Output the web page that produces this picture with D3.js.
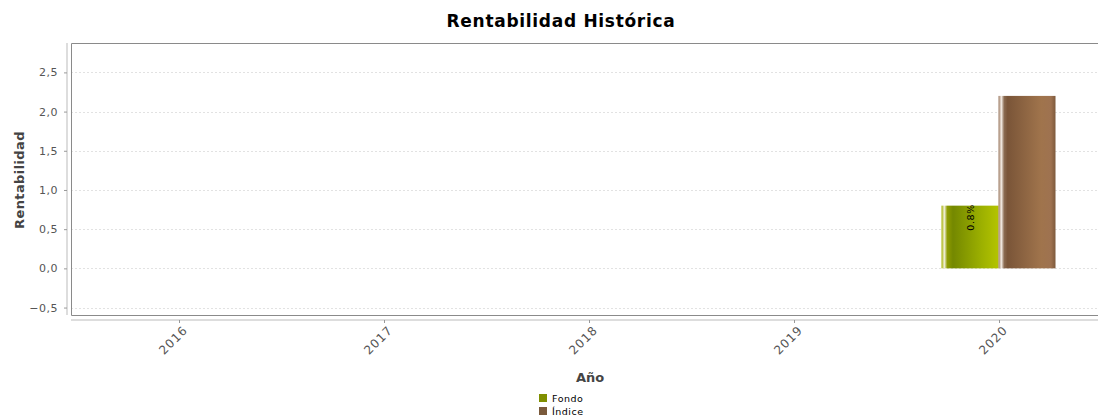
<!DOCTYPE html>
<head>
  <meta charset="utf-8">
  <script src="https://d3js.org/d3.v7.min.js"></script>
  <style>
    body { margin:0; background:#fff; }
    text { font-family: "DejaVu Sans", sans-serif; }
  </style>
</head>
<body>
<div id="chart"></div>
<script>
  var width = 1098, height = 418;

  // data
  var years = ["2016", "2017", "2018", "2019", "2020"];
  var series = ["Fondo", "Índice"];
  var fondo = [null, null, null, null, 0.8];
  var indice = [null, null, null, null, 2.2];
  var yTicks = [-0.5, 0, 0.5, 1, 1.5, 2, 2.5];

  var plot = {left: 71, top: 43, right: 1104, bottom: 315};

  var svg = d3.select("#chart").append("svg")
    .attr("width", width).attr("height", height);

  var defs = svg.append("defs");
  function grad(id, stops) {
    var g = defs.append("linearGradient").attr("id", id)
      .attr("x1", "0%").attr("x2", "100%").attr("y1", "0%").attr("y2", "0%");
    stops.forEach(function(s){ g.append("stop").attr("offset", s[0]).attr("stop-color", s[1]); });
  }
  grad("gFondo", [["0%","#a4b000"],["5%","#f2f0dc"],["10%","#8e9c00"],["20%","#748800"],["70%","#9cb000"],["100%","#b4c400"]]);
  grad("gIndice", [["0%","#9a7860"],["5%","#f4ece4"],["10%","#8a6a50"],["16%","#7a5538"],["75%","#a0744c"],["92%","#9e7250"],["100%","#7e5a3c"]]);
  var fills = ["url(#gFondo)", "url(#gIndice)"];

  var x = d3.scaleBand().domain(years).range([77, 1102]).padding(0);
  var x1 = d3.scaleBand().domain(series).range([0, 114]);
  var y = d3.scaleLinear().domain([-0.595, 2.875]).range([plot.bottom, plot.top]);

  // title
  svg.append("text").attr("x", 561).attr("y", 27).attr("text-anchor", "middle")
    .attr("font-size", "17px").attr("font-weight", "bold").attr("letter-spacing", "0.7px")
    .attr("fill", "#000").text("Rentabilidad Histórica");

  // grid
  svg.append("g").selectAll("line").data(yTicks).enter().append("line")
    .attr("x1", plot.left).attr("x2", width)
    .attr("y1", function(d){ return Math.round(y(d)) + 0.5; })
    .attr("y2", function(d){ return Math.round(y(d)) + 0.5; })
    .attr("stroke", "#e2e2e2").attr("stroke-dasharray", "2,2");

  // plot border
  svg.append("path")
    .attr("d", "M" + width + "," + (plot.top + 0.5) + "H" + (plot.left + 0.5) + "V" + (plot.bottom + 0.5) + "H" + width)
    .attr("fill", "none").attr("stroke", "#8a8a8a");

  // bars
  var rows = years.map(function(yr, i){ return {year: yr, vals: [fondo[i], indice[i]]}; });
  var groups = svg.append("g").selectAll("g").data(rows).enter().append("g")
    .attr("transform", function(d){ return "translate(" + (x(d.year) + x.bandwidth()/2 - 58) + ",0)"; });
  groups.selectAll("rect").data(function(d){
      return d.vals.map(function(v, k){ return {s: series[k], v: v, k: k}; }).filter(function(e){ return e.v != null; });
    }).enter().append("rect")
    .attr("x", function(d){ return x1(d.s); })
    .attr("width", x1.bandwidth())
    .attr("y", function(d){ return y(Math.max(0, d.v)); })
    .attr("height", function(d){ return Math.abs(y(d.v) - y(0)); })
    .attr("fill", function(d){ return fills[d.k]; });

  // value label on Fondo bars
  groups.each(function(d){
    var v = d.vals[0];
    if (v == null) return;
    var cx = x1("Fondo") + x1.bandwidth()/2;
    d3.select(this).append("text")
      .attr("transform", "translate(" + (cx + 3.5) + "," + (y(v) + 25) + ") rotate(-90)")
      .attr("font-size", "9.5px").attr("font-family", "DejaVu Sans Condensed, sans-serif")
      .attr("letter-spacing", "0.6px")
      .attr("fill", "#000").text(v.toFixed(1) + "%");
  });

  // y axis
  var yAxis = d3.axisLeft(y).tickValues(yTicks).tickSize(3).tickPadding(6)
    .tickFormat(function(d){ return d3.format(".1f")(d).replace(".", ",").replace("-", "\u2212"); });
  var yg = svg.append("g").attr("transform", "translate(67,0)").call(yAxis);
  yg.select(".domain").attr("stroke", "#bbb").attr("d", "M0," + plot.top + "V" + plot.bottom);
  yg.selectAll(".tick line").attr("stroke", "#999");
  yg.selectAll("text").attr("font-size", "11px").attr("fill", "#555").attr("letter-spacing", "0.5px");

  // x axis
  var xAxis = d3.axisBottom(x).tickSize(3).tickPadding(4);
  var xg = svg.append("g").attr("transform", "translate(0,320)").call(xAxis);
  xg.select(".domain").attr("stroke", "#bbb").attr("d", "M" + plot.left + ",0H" + width);
  xg.selectAll(".tick line").attr("stroke", "#999");
  xg.selectAll("text").attr("font-size", "12px").attr("fill", "#555").attr("letter-spacing", "1px")
    .attr("text-anchor", "end").attr("dy", "0.35em")
    .attr("transform", "translate(1,3) rotate(-45)");

  // axis titles
  svg.append("text").attr("transform", "translate(24,180) rotate(-90)").attr("text-anchor", "middle")
    .attr("font-size", "13px").attr("font-weight", "bold").attr("fill", "#444").attr("letter-spacing", "0.4px")
    .text("Rentabilidad");
  svg.append("text").attr("x", 590).attr("y", 382).attr("text-anchor", "middle")
    .attr("font-size", "13px").attr("font-weight", "bold").attr("fill", "#444").text("Año");

  // legend
  var legColors = ["#7f8f00", "#7a5a3c"];
  var leg = svg.append("g").selectAll("g").data(series).enter().append("g")
    .attr("transform", function(d, i){ return "translate(539," + (394 + i * 13) + ")"; });
  leg.append("rect").attr("width", 8).attr("height", 8)
    .attr("fill", function(d, i){ return legColors[i]; });
  leg.append("text").attr("x", 13).attr("y", 8)
    .attr("font-size", "9.5px").attr("font-family", "DejaVu Sans Condensed, sans-serif")
    .attr("letter-spacing", "0.5px")
    .attr("fill", "#000").text(function(d){ return d; });
</script>
</body>
